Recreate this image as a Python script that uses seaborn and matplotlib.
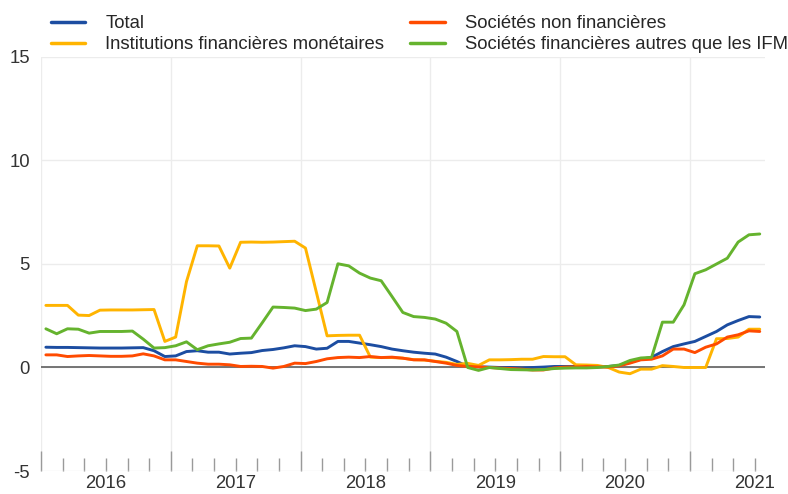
import matplotlib
matplotlib.use("Agg")
import matplotlib.pyplot as plt
from matplotlib.ticker import FixedLocator, FixedFormatter
import seaborn as sns
import pandas as pd
import numpy as np

# ---- data (monthly, Jan 2016 - Jul 2021) ----
start_year = 2016
total = [0.98, 0.97, 0.97, 0.96, 0.95, 0.94, 0.94, 0.94, 0.95, 0.96,
         0.81, 0.53, 0.56, 0.77, 0.81, 0.74, 0.74, 0.65, 0.69, 0.72,
         0.82, 0.87, 0.95, 1.05, 1.01, 0.89, 0.93, 1.26, 1.26, 1.18,
         1.10, 1.01, 0.89, 0.81, 0.74, 0.69, 0.65, 0.50, 0.29, 0.05,
         0.03, 0.02, 0.00, 0.00, -0.02, 0.00, 0.02, 0.05, 0.05, 0.05,
         0.05, 0.03, 0.05, 0.10, 0.25, 0.40, 0.49, 0.77, 1.01, 1.14,
         1.26, 1.50, 1.74, 2.06, 2.27, 2.46, 2.44]
ifm = [3.00, 3.00, 3.00, 2.53, 2.51, 2.77, 2.78, 2.78, 2.78, 2.79,
       2.80, 1.26, 1.47, 4.15, 5.88, 5.88, 5.87, 4.80, 6.05, 6.06,
       6.05, 6.06, 6.08, 6.10, 5.77, 3.65, 1.53, 1.55, 1.56, 1.56,
       0.50, 0.48, 0.48, 0.45, 0.38, 0.36, 0.30, 0.25, 0.15, 0.20,
       0.10, 0.37, 0.37, 0.38, 0.40, 0.40, 0.53, 0.52, 0.52, 0.13,
       0.12, 0.10, 0.00, -0.22, -0.30, -0.08, -0.08, 0.09, 0.05, 0.00,
       0.00, 0.00, 1.39, 1.40, 1.47, 1.85, 1.85]
snf = [0.61, 0.61, 0.53, 0.56, 0.58, 0.56, 0.54, 0.54, 0.56, 0.66,
       0.56, 0.37, 0.37, 0.29, 0.21, 0.16, 0.16, 0.13, 0.05, 0.06,
       0.05, -0.03, 0.05, 0.21, 0.19, 0.29, 0.42, 0.48, 0.50, 0.48,
       0.53, 0.48, 0.50, 0.45, 0.37, 0.37, 0.29, 0.21, 0.10, 0.05,
       0.03, 0.00, -0.03, -0.05, -0.08, -0.12, -0.12, -0.02, 0.02, 0.03,
       0.05, 0.03, 0.02, 0.08, 0.21, 0.37, 0.40, 0.56, 0.89, 0.89,
       0.72, 0.98, 1.14, 1.47, 1.58, 1.77, 1.74]
sf = [1.87, 1.63, 1.87, 1.85, 1.66, 1.74, 1.74, 1.74, 1.76, 1.37,
      0.94, 0.96, 1.05, 1.24, 0.86, 1.05, 1.14, 1.22, 1.40, 1.42,
      2.16, 2.92, 2.90, 2.87, 2.75, 2.82, 3.14, 5.01, 4.91, 4.56,
      4.32, 4.19, 3.43, 2.66, 2.46, 2.42, 2.34, 2.14, 1.74, 0.00,
      -0.14, 0.00, -0.05, -0.10, -0.11, -0.12, -0.10, -0.05, -0.03, -0.02,
      -0.02, 0.00, 0.05, 0.12, 0.34, 0.46, 0.49, 2.19, 2.19, 3.03,
      4.53, 4.72, 5.00, 5.28, 6.06, 6.41, 6.45]

series_names = ["Total",
                "Institutions financières monétaires",
                "Sociétés non financières",
                "Sociétés financières autres que les IFM"]
series_values = [total, ifm, snf, sf]
colors = ["#1c4da1", "#ffb400", "#ff4b00", "#65b32e"]
year_labels = ["2016", "2017", "2018", "2019", "2020", "2021"]
y_ticks = [-5, 0, 5, 10, 15]
y_tick_labels = ["-5", "0", "5", "10", "15"]

n = len(total)
x_dates = [start_year + (i + 0.45) / 12 for i in range(n)]
df = pd.concat([pd.DataFrame({"x": x_dates, "value": v, "series": name})
                for name, v in zip(series_names, series_values)],
               ignore_index=True)

# ---- style ----
sns.set_style("white")
plt.rcParams["font.family"] = ["Liberation Sans", "DejaVu Sans"]
plt.rcParams["axes.unicode_minus"] = False
FS = 13.3

fig = plt.figure(figsize=(7.88, 4.94), dpi=100)
ax = fig.add_axes([41 / 788, 1 - 471 / 494, (765 - 41) / 788, (471 - 57) / 494])

sns.lineplot(data=df, x="x", y="value", hue="series", hue_order=series_names,
             palette=dict(zip(series_names, colors)), linewidth=2.1, ax=ax)

leg = ax.get_legend()
handles = leg.legend_handles
labels = [t.get_text() for t in leg.get_texts()]
leg.remove()
for h in handles:
    h.set_linewidth(2.5)
fig.legend(handles, labels, ncol=2, loc="upper left",
           bbox_to_anchor=(51 / 788, 1 - 15 / 494), frameon=False,
           fontsize=FS, handlelength=1.85, handletextpad=1.1,
           columnspacing=1.4, labelspacing=0.22, borderpad=0, borderaxespad=0)

ax.set_xlim(2016, 2021 + 75 / 129.8)
ax.set_ylim(-5, 15)
for s in ax.spines.values():
    s.set_visible(False)

ax.set_yticks(y_ticks)
ax.set_yticklabels(y_tick_labels)
ax.tick_params(axis="y", length=0, pad=8, labelsize=FS, labelcolor="#333333")

years = [int(y) for y in year_labels]
ax.xaxis.set_major_locator(FixedLocator(years))
ax.xaxis.set_major_formatter(FixedFormatter([""] * len(years)))
minor_pos = [start_year + k / 6 for k in range(1, 6 * len(years))
             if k % 6 != 0 and start_year + k / 6 < ax.get_xlim()[1]]
minor_lab = []
for p in minor_pos:
    frac = p - int(p)
    minor_lab.append(str(int(p)) if abs(frac - 0.5) < 1e-6 else "")
ax.xaxis.set_minor_locator(FixedLocator(minor_pos))
ax.xaxis.set_minor_formatter(FixedFormatter(minor_lab))
ax.tick_params(axis="x", which="major", direction="in", length=14.5, width=1,
               color="#9a9a9a", bottom=True)
ax.tick_params(axis="x", which="minor", direction="in", length=9.4, width=1,
               color="#9a9a9a", bottom=True, pad=3, labelsize=FS,
               labelcolor="#333333")

ax.grid(axis="y", color="#ececec", linewidth=1)
ax.grid(axis="x", which="major", color="#ececec", linewidth=1)
ax.axhline(0, color="#6a6a6a", linewidth=1.3, zorder=1.5)
ax.set_xlabel("")
ax.set_ylabel("")

fig.savefig("out.png", dpi=100)
